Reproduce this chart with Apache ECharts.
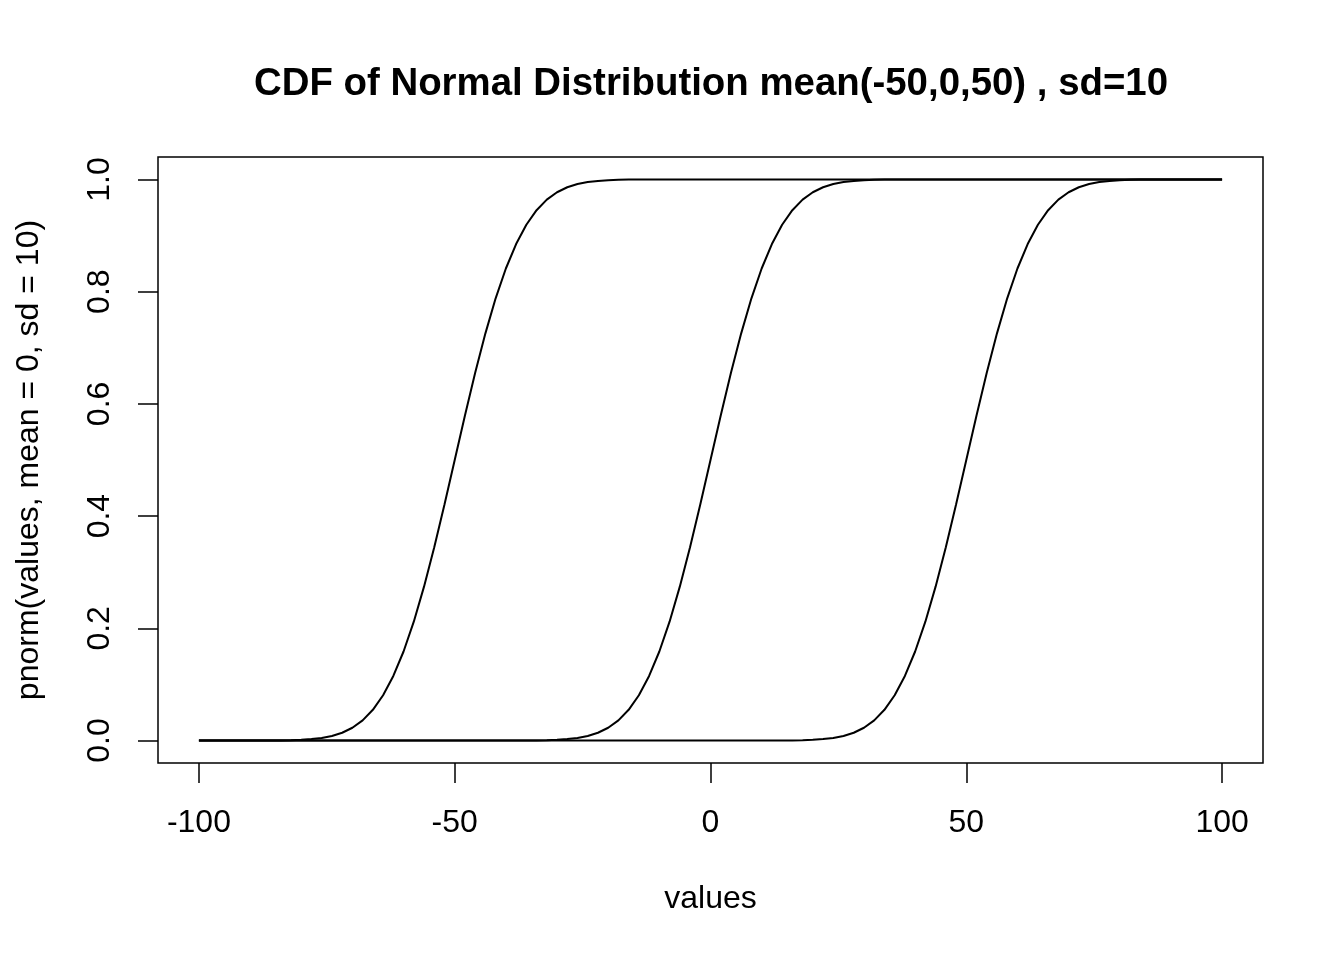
<!DOCTYPE html>
<html>
<head>
<meta charset="utf-8">
<script src="https://cdn.jsdelivr.net/npm/echarts@6/dist/echarts.min.js"></script>
<style>
  html, body { margin: 0; padding: 0; background: #fff; }
  #main { width: 1344px; height: 960px; }
</style>
</head>
<body>
<div id="main"></div>
<script>
// points; flat parts only need their ends
var xMinus50 = [-100, -84, -82, -80, -78, -76, -74, -72, -70, -68, -66, -64, -62, -60, -58, -56, -54, -52,
  -50, -48, -46, -44, -42, -40, -38, -36, -34, -32, -30, -28, -26, -24, -22, -20, -18, -16, 100];
var xZero = [-100, -34, -32, -30, -28, -26, -24, -22, -20, -18, -16, -14, -12, -10, -8, -6, -4, -2,
  0, 2, 4, 6, 8, 10, 12, 14, 16, 18, 20, 22, 24, 26, 28, 30, 32, 34, 100];
var xPlus50 = [-100, 16, 18, 20, 22, 24, 26, 28, 30, 32, 34, 36, 38, 40, 42, 44, 46, 48,
  50, 52, 54, 56, 58, 60, 62, 64, 66, 68, 70, 72, 74, 76, 78, 80, 82, 84, 100];
// the three curves have the same shape, so one list of heights serves all of them
var yMinus50 = [0, 0.0003, 0.0007, 0.0013, 0.0026, 0.0047, 0.0082, 0.0139, 0.0228, 0.0359, 0.0548, 0.0808,
  0.1151, 0.1587, 0.2119, 0.2743, 0.3446, 0.4207, 0.5, 0.5793, 0.6554, 0.7257, 0.7881, 0.8413, 0.8849,
  0.9192, 0.9452, 0.9641, 0.9772, 0.9861, 0.9918, 0.9953, 0.9974, 0.9987, 0.9993, 0.9997, 1];
var yZero = yMinus50;
var yPlus50 = yMinus50;
var xTicks = [-100, -50, 0, 50, 100];
var yTicks = [0, 0.2, 0.4, 0.6, 0.8, 1.0];

function curve(xs, ys) {
  return {
    type: 'line',
    data: xs.map(function (x, i) { return [x, ys[i]]; }),
    showSymbol: false,
    lineStyle: { color: '#000', width: 2 },
    silent: true
  };
}

var font = 'Liberation Sans, Arial, Helvetica, sans-serif';

echarts.init(document.getElementById('main')).setOption({
  animation: false,
  title: {
    text: 'CDF of Normal Distribution mean(-50,0,50) , sd=10',
    left: 706,
    top: 60,
    textAlign: 'center',
    textStyle: { fontFamily: font, fontSize: 38.4, fontWeight: 'bold', color: '#000' }
  },
  grid: {
    left: 158, right: 81, top: 157, bottom: 197,
    show: true, borderColor: '#000', borderWidth: 1.5, backgroundColor: 'transparent'
  },
  xAxis: {
    type: 'value',
    min: -108, max: 108,
    name: 'values',
    nameLocation: 'middle',
    nameGap: 120,
    nameTextStyle: { fontFamily: font, fontSize: 32, color: '#000' },
    axisLine: { show: false, onZero: false },
    splitLine: { show: false },
    axisTick: { show: true, inside: false, length: 20, customValues: xTicks, lineStyle: { color: '#000', width: 1.5 } },
    axisLabel: { customValues: xTicks, margin: 44, fontFamily: font, fontSize: 32, color: '#000' }
  },
  yAxis: {
    type: 'value',
    min: -0.04, max: 1.04,
    name: 'pnorm(values, mean = 0, sd = 10)',
    nameLocation: 'middle',
    nameGap: 113,
    nameRotate: 90,
    nameTextStyle: { fontFamily: font, fontSize: 32, color: '#000' },
    axisLine: { show: false, onZero: false },
    splitLine: { show: false },
    axisTick: { show: true, inside: false, length: 20, customValues: yTicks, lineStyle: { color: '#000', width: 1.5 } },
    axisLabel: {
      customValues: yTicks, margin: 42, rotate: 90, fontFamily: font, fontSize: 32, color: '#000',
      formatter: function (v) { return v.toFixed(1); }
    }
  },
  series: [curve(xMinus50, yMinus50), curve(xZero, yZero), curve(xPlus50, yPlus50)]
});
</script>
</body>
</html>
